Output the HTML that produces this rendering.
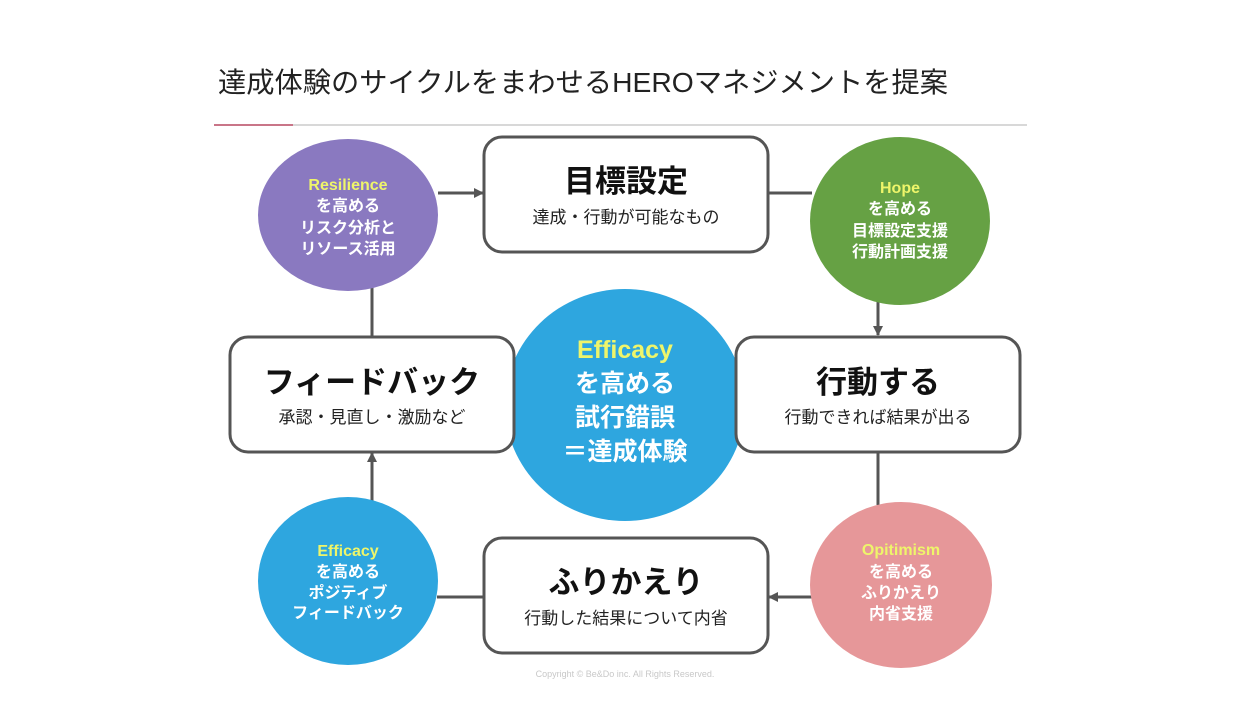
<!DOCTYPE html>
<html><head><meta charset="utf-8"><style>
body{margin:0;width:1250px;height:704px;background:#fff;overflow:hidden;font-family:"Liberation Sans","Noto Sans CJK JP",sans-serif;}
</style></head><body>
<svg width="1250" height="704" xmlns="http://www.w3.org/2000/svg" style="position:absolute;left:0;top:0;font-family:'Liberation Sans','Noto Sans CJK JP',sans-serif">
<defs><marker id="a" markerWidth="10" markerHeight="10" refX="9" refY="5" orient="auto" markerUnits="userSpaceOnUse"><path d="M0,0 L10,5 L0,10 z" fill="#555"/></marker></defs>
<text x="218" y="92" font-size="28" fill="#222" textLength="730" lengthAdjust="spacingAndGlyphs">達成体験のサイクルをまわせるHEROマネジメントを提案</text>
<line x1="214" y1="125" x2="1027" y2="125" stroke="#ccc" stroke-width="1.5"/>
<line x1="214" y1="125" x2="293" y2="125" stroke="#c0506a" stroke-width="1.5"/>
<g stroke="#555" stroke-width="3" fill="none">
<line x1="438" y1="193" x2="483" y2="193" marker-end="url(#a)"/>
<line x1="768" y1="193" x2="812" y2="193"/>
<line x1="878" y1="300" x2="878" y2="335" marker-end="url(#a)"/>
<line x1="878" y1="452" x2="878" y2="505"/>
<line x1="812" y1="597" x2="769" y2="597" marker-end="url(#a)"/>
<line x1="484" y1="597" x2="437" y2="597"/>
<line x1="372" y1="505" x2="372" y2="453" marker-end="url(#a)"/>
<line x1="372" y1="336" x2="372" y2="285"/>
</g>
<ellipse cx="348" cy="215" rx="90" ry="76" fill="#8a79c0"/>
<ellipse cx="900" cy="221" rx="90" ry="84" fill="#66a144"/>
<ellipse cx="625" cy="405" rx="120" ry="116" fill="#2ea6df"/>
<ellipse cx="348" cy="581" rx="90" ry="84" fill="#2ea6df"/>
<ellipse cx="901" cy="585" rx="91" ry="83" fill="#e69799"/>
<g fill="#fff" stroke="#555" stroke-width="3">
<rect x="484" y="137" width="284" height="115" rx="18"/>
<rect x="230" y="337" width="284" height="115" rx="18"/>
<rect x="736" y="337" width="284" height="115" rx="18"/>
<rect x="484" y="538" width="284" height="115" rx="18"/>
</g>
<g text-anchor="middle" font-weight="bold">
<text x="626" y="192" font-size="31" fill="#111">目標設定</text>
<text x="372" y="393" font-size="31" fill="#111">フィードバック</text>
<text x="878" y="393" font-size="31" fill="#111">行動する</text>
<text x="626" y="593" font-size="31" fill="#111">ふりかえり</text>
</g>
<g text-anchor="middle" font-size="17" fill="#222">
<text x="626" y="223">達成・行動が可能なもの</text>
<text x="372" y="423">承認・見直し・激励など</text>
<text x="878" y="423">行動できれば結果が出る</text>
<text x="626" y="624">行動した結果について内省</text>
</g>
<g text-anchor="middle" font-weight="bold" font-size="16" fill="#fff">
<text x="348" y="190" fill="#eef56a">Resilience</text>
<text x="348" y="211">を高める</text>
<text x="348" y="233">リスク分析と</text>
<text x="348" y="254">リソース活用</text>
<text x="900" y="193" fill="#eef56a">Hope</text>
<text x="900" y="214">を高める</text>
<text x="900" y="236">目標設定支援</text>
<text x="900" y="257">行動計画支援</text>
<text x="348" y="556" fill="#eef56a">Efficacy</text>
<text x="348" y="577">を高める</text>
<text x="348" y="598">ポジティブ</text>
<text x="348" y="618">フィードバック</text>
<text x="901" y="555" fill="#eef56a">Opitimism</text>
<text x="901" y="577">を高める</text>
<text x="901" y="598">ふりかえり</text>
<text x="901" y="619">内省支援</text>
</g>
<g text-anchor="middle" font-weight="bold" font-size="25" fill="#fff">
<text x="625" y="358" fill="#eef56a">Efficacy</text>
<text x="625" y="392">を高める</text>
<text x="625" y="426">試行錯誤</text>
<text x="625" y="460">＝達成体験</text>
</g>
<text x="625" y="677" text-anchor="middle" font-size="9" fill="#c8c8c8">Copyright © Be&amp;Do inc. All Rights Reserved.</text>
</svg>
</body></html>
